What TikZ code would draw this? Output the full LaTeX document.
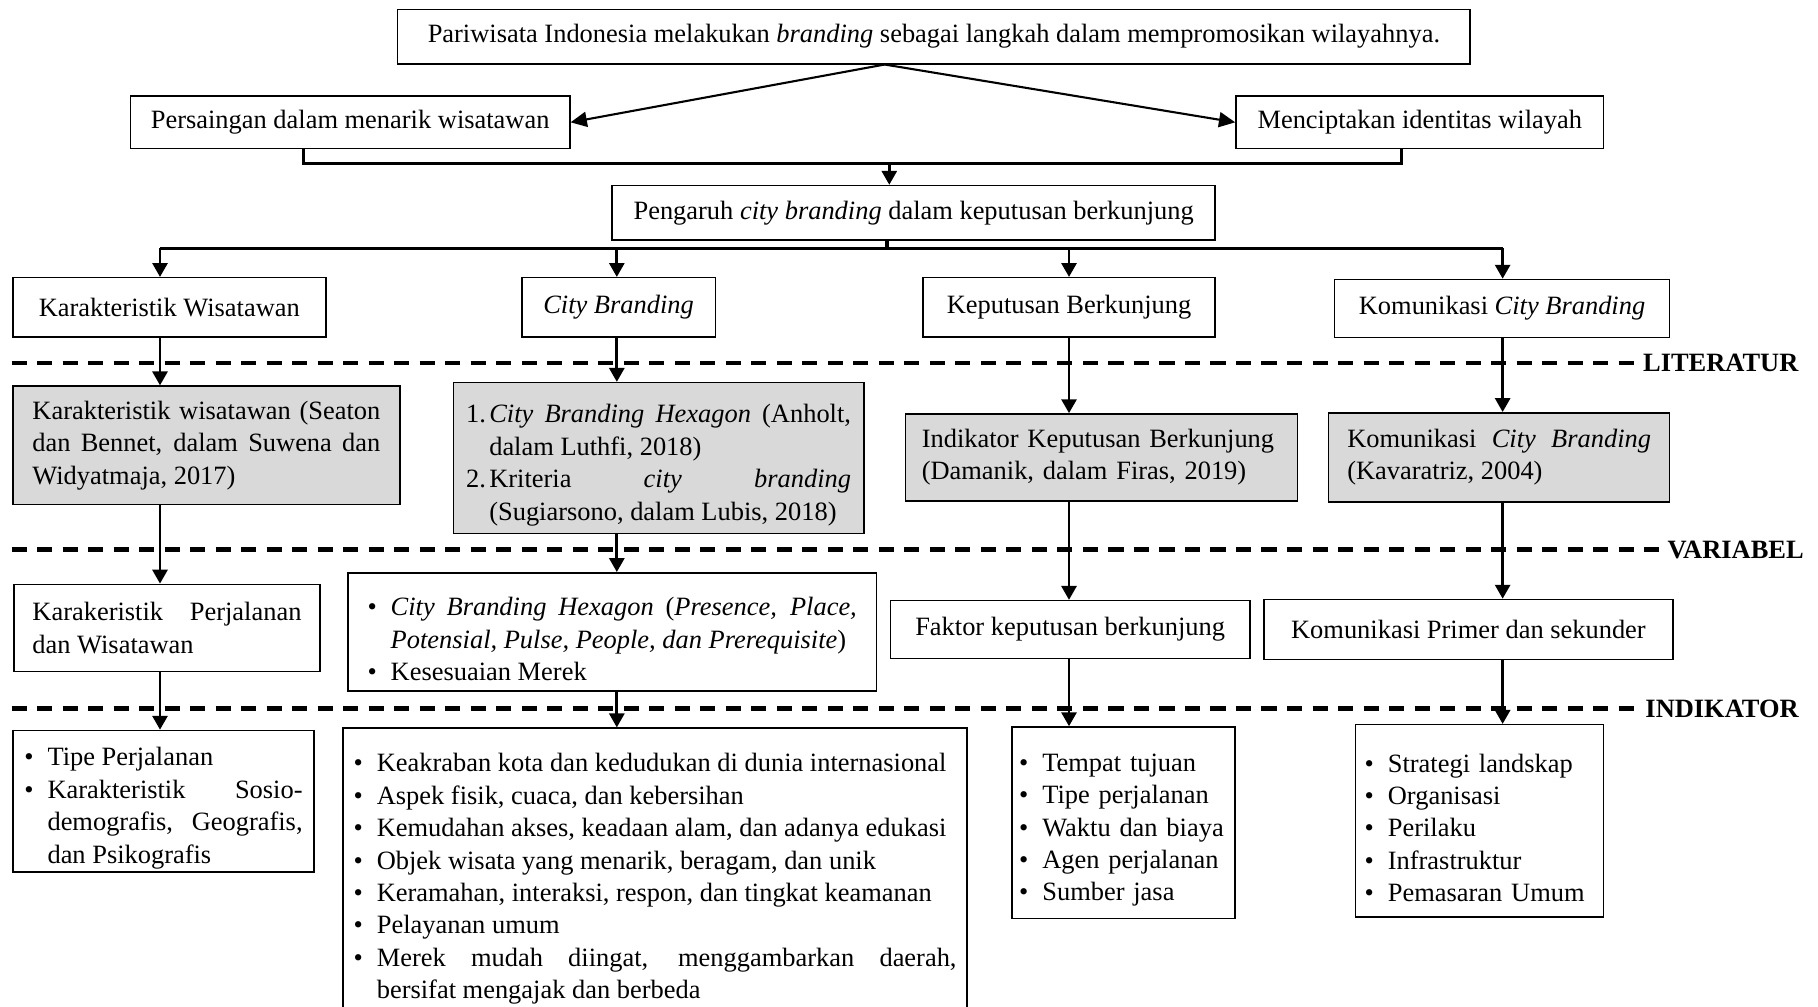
\documentclass[tikz,border=0pt]{standalone}
\usepackage{fontspec}
\setmainfont{Liberation Serif}
\usepackage{xcolor}
\usetikzlibrary{arrows.meta,calc}
\definecolor{abu}{HTML}{D9D9D9}
\hyphenpenalty=10000
\tikzset{
  kotak/.style={rectangle, draw=black, line width=1.3pt, fill=white,
                inner ysep=0pt, font=\fontsize{22.8}{28}\selectfont},
  kotakabu/.style={kotak, fill=abu},
  panah/.style={-{Triangle[length=12pt,width=13pt]}, line width=2.3pt},
  panahm/.style={-{Triangle[length=14pt,width=13pt]}, line width=1.8pt},
  brk/.style={line width=2.8pt},
  batas/.style={line width=4pt, dash pattern=on 13pt off 9pt},
  lbl/.style={font=\fontsize{22.8}{28}\selectfont\bfseries, anchor=west, inner sep=6pt}
}
\newcommand{\bul}{\par\hangindent=20pt\hangafter=1\noindent\makebox[20pt][l]{\textbullet}}
\newcommand{\nomor}[1]{\par\hangindent=20pt\hangafter=1\noindent\makebox[20pt][l]{#1.}}

\begin{document}
\begin{tikzpicture}[x=1pt, y=-1pt]
  \useasboundingbox (0,0) rectangle (1568,868);
  % kolom dan titik cabang
  \coordinate (tengah) at (763,0);
  \coordinate (kiri) at (10,0);
  \coordinate (c1) at (138,0);
  \coordinate (c2) at (532,0);
  \coordinate (c3) at (922,0);
  \coordinate (c4) at (1296,0);
  \coordinate (j1) at (767,141);
  \coordinate (j2) at (765,214);

  % garis batas
  \node[lbl] (lit) at (1411,313) {LITERATUR};
  \node[lbl] (var) at (1432,474) {VARIABEL};
  \node[lbl] (ind) at (1413,611) {INDIKATOR};
  \foreach \l in {lit,var,ind} \draw[batas] (\l.west -| kiri) -- (\l.west);

  % atas
  \node[kotak, minimum width=925pt, minimum height=47pt] (top) at (805.5,31.5)
    {Pariwisata Indonesia melakukan \textit{branding} sebagai langkah dalam mempromosikan wilayahnya.};
  \node[kotak, minimum width=379pt, minimum height=45pt] (persaingan) at (302,105.5)
    {Persaingan dalam menarik wisatawan};
  \node[kotak, minimum width=317pt, minimum height=45pt] (mencip) at (1224.5,105.5)
    {Menciptakan identitas wilayah};
  \node[kotak, minimum width=520pt, minimum height=47pt] (pengaruh) at (788,183.5)
    {Pengaruh \textit{city branding} dalam keputusan berkunjung};

  % variabel utama
  \node[kotak, minimum width=270pt, minimum height=51pt] (kw) at (146,265) {Karakteristik Wisatawan};
  \node[kotak, minimum width=167pt, minimum height=51pt] (cb) at (533.5,265) {\textit{City Branding}};
  \node[kotak, minimum width=252pt, minimum height=51pt] (kb) at (922,265) {Keputusan Berkunjung};
  \node[kotak, minimum width=289pt, minimum height=50pt] (kcb) at (1295.5,266)
    {Komunikasi \textit{City Branding}};

  % literatur
  \node[kotakabu, minimum width=334pt, minimum height=102pt, text width=300pt,
        inner xsep=17pt, align=justify] (gk) at (178,384)
    {Karakteristik wisatawan (Seaton\linebreak dan Bennet, dalam Suwena dan\linebreak Widyatmaja, 2017)\par};
  \node[kotakabu, minimum width=354pt, minimum height=130pt, text width=332pt,
        inner xsep=11pt, align=justify] (ghex) at (568,395)
    {\nomor{1}\textit{City Branding Hexagon} (Anholt,\linebreak dalam Luthfi, 2018)%
     \nomor{2}Kriteria \textit{city branding}\linebreak (Sugiarsono, dalam Lubis, 2018)\par};
  \node[kotakabu, minimum width=338pt, minimum height=75pt, text width=310pt,
        inner xsep=14pt, align=left] (gkb) at (950,394.5)
    {Indikator Keputusan Berkunjung\\(Damanik, dalam Firas, 2019)};
  \node[kotakabu, minimum width=294pt, minimum height=77pt, text width=262pt,
        inner xsep=16pt, align=justify] (gkcb) at (1293,394.5)
    {Komunikasi \textit{City Branding}\linebreak (Kavaratriz, 2004)\par};

  % variabel
  \node[kotak, minimum width=264pt, minimum height=75pt, text width=232pt,
        inner xsep=16pt, align=justify] (vk) at (144,541.5)
    {Karakeristik Perjalanan\linebreak dan Wisatawan\par};
  \node[kotak, minimum width=456pt, minimum height=102pt, text width=422pt,
        inner xsep=17pt, align=justify] (vhex) at (528,545)
    {\bul\textit{City Branding Hexagon} (\textit{Presence, Place,\linebreak Potensial, Pulse, People, dan Prerequisite})%
     \bul Kesesuaian Merek\par};
  \node[kotak, minimum width=310pt, minimum height=50pt] (vkb) at (923,543)
    {Faktor keputusan berkunjung};
  \node[kotak, minimum width=353pt, minimum height=52pt] (vkcb) at (1266.5,543)
    {Komunikasi Primer dan sekunder};

  % indikator
  \node[kotak, minimum width=260pt, minimum height=122pt, text width=240pt,
        inner xsep=10pt, align=justify] (ik) at (141,691)
    {\bul Tipe Perjalanan\bul Karakteristik Sosio-\linebreak demografis, Geografis,\linebreak dan Psikografis\par};
  \node[kotak, minimum width=538pt, minimum height=248pt, text width=520pt,
        inner xsep=9pt, align=justify] (ihex) at (565,752)
    {\bul Keakraban kota dan kedudukan di dunia internasional
     \bul Aspek fisik, cuaca, dan kebersihan
     \bul Kemudahan akses, keadaan alam, dan adanya edukasi
     \bul Objek wisata yang menarik, beragam, dan unik
     \bul Keramahan, interaksi, respon, dan tingkat keamanan
     \bul Pelayanan umum
     \bul Merek mudah diingat, menggambarkan daerah,\linebreak bersifat mengajak dan berbeda\par};
  \node[kotak, minimum width=192pt, minimum height=165pt, text width=180pt,
        inner xsep=6pt, align=left] (ikb) at (969,709.5)
    {\bul Tempat tujuan\bul Tipe perjalanan\bul Waktu dan biaya\bul Agen perjalanan\bul Sumber jasa\par};
  \node[kotak, minimum width=214pt, minimum height=166pt, text width=198pt,
        inner xsep=8pt, align=left] (ikcb) at (1276,708)
    {\bul Strategi landskap\bul Organisasi\bul Perilaku\bul Infrastruktur\bul Pemasaran Umum\par};

  % panah
  \draw[panahm] (top.south -| tengah) -- (persaingan.east);
  \draw[panahm] (top.south -| tengah) -- (mencip.west);
  \draw[brk] ([xshift=-40pt]persaingan.south) |- (j1) -| ([xshift=-16pt]mencip.south);
  \draw[panah] (j1) -- (pengaruh.north -| j1);
  \draw[brk] (pengaruh.south -| j2) -- (j2);
  \draw[brk] (j2 -| c1) -- (j2 -| c4);
  \foreach \n/\c in {kw/c1,cb/c2,kb/c3,kcb/c4}
    \draw[panah] (j2 -| \c) -- (\n.north -| \c);
  \foreach \a/\b/\c in {kw/gk/c1,gk/vk/c1,vk/ik/c1,
                        cb/ghex/c2,ghex/vhex/c2,vhex/ihex/c2,
                        kb/gkb/c3,gkb/vkb/c3,vkb/ikb/c3,
                        kcb/gkcb/c4,gkcb/vkcb/c4,vkcb/ikcb/c4}
    \draw[panah] (\a.south -| \c) -- (\b.north -| \c);
\end{tikzpicture}
\end{document}
